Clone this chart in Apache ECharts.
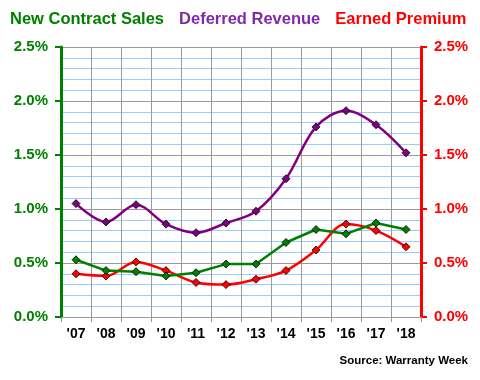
<!DOCTYPE html>
<html><head><meta charset="utf-8">
<script src="https://cdn.jsdelivr.net/npm/echarts@6/dist/echarts.min.js"></script>
<style>html,body{margin:0;padding:0;background:#fff}#c{width:480px;height:380px}</style>
</head><body><div id="c"></div>
<script>
const categories = ["'07","'08","'09","'10","'11","'12","'13","'14","'15","'16","'17","'18"];
const newContractSales = [0.53,0.43,0.42,0.38,0.41,0.49,0.49,0.69,0.81,0.77,0.87,0.81];
const deferredRevenue = [1.05,0.88,1.04,0.86,0.78,0.87,0.98,1.28,1.76,1.91,1.78,1.52];
const earnedPremium = [0.40,0.38,0.51,0.43,0.32,0.30,0.35,0.43,0.62,0.86,0.80,0.65];
const yTicks = [0, 0.5, 1.0, 1.5, 2.0, 2.5];

const font = 'Liberation Sans, Arial, sans-serif';
const chart = echarts.init(document.getElementById('c'), null, {renderer:'canvas'});
function yAxis(pos, color, grid) {
  return {
    type:'value', position:pos, min:yTicks[0], max:yTicks[yTicks.length-1], interval:0.5,
    axisLine:{show:true, lineStyle:{color:color, width:3}},
    axisTick:{show:true, length:6, lineStyle:{color:color, width:2}},
    axisLabel:{color:color, fontFamily:font, fontWeight:'bold', fontSize:15, margin:13,
      formatter: v => v.toFixed(1) + '%'},
    minorTick:{show:false, splitNumber:5},
    splitLine:{show:grid, lineStyle:{color:'#999999', width:1}},
    minorSplitLine:{show:grid, lineStyle:{color:'#99ccff', width:1}}
  };
}
const mk = (name, data, color, smooth) => ({
  name, type:'line', data, smooth, symbol:'diamond', symbolSize:8,
  lineStyle:{color, width:2.5},
  itemStyle:{color, borderColor:'#000', borderWidth:0.8},
  emphasis:{disabled:true}
});
chart.setOption({
  animation:false,
  backgroundColor:'#ffffff',
  grid:{left:61, right:59, top:47, bottom:63},
  legend:{
    top:6, left:0, icon:'none', itemWidth:0, itemGap:10, selectedMode:false,
    textStyle:{fontFamily:font, fontWeight:'bold', fontSize:16.5},
    data:[
      {name:'New Contract Sales', textStyle:{color:'#008000'}},
      {name:'Deferred Revenue', textStyle:{color:'#7f2aa8'}},
      {name:'Earned Premium', textStyle:{color:'#ff0000'}}
    ]
  },
  title:{text:'Source: Warranty Week', right:7, bottom:8,
    textStyle:{fontFamily:font, fontWeight:'bold', fontSize:11.5, color:'#000'}},
  xAxis:{
    type:'category', data:categories, boundaryGap:true,
    axisLine:{lineStyle:{color:'#999999', width:1}},
    axisTick:{show:true, length:5, lineStyle:{color:'#999999'}},
    axisLabel:{color:'#000', fontFamily:font, fontWeight:'bold', fontSize:14, margin:10},
    splitLine:{show:true, lineStyle:{color:'#999999', width:1}}
  },
  yAxis:[yAxis('left', '#008000', true), yAxis('right', '#ff0000', false)],
  series:[
    mk('Earned Premium', earnedPremium, '#ff0000', 0.35),
    mk('New Contract Sales', newContractSales, '#008000', false),
    mk('Deferred Revenue', deferredRevenue, '#800080', 0.35)
  ]
});
</script></body></html>
